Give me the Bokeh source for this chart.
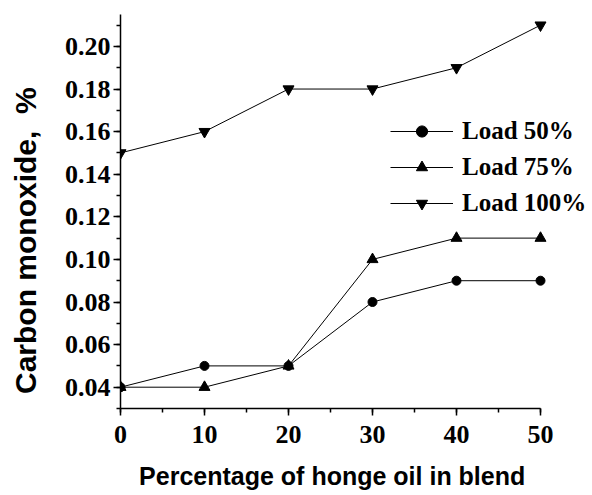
from bokeh.plotting import figure
from bokeh.models import Range1d, SingleIntervalTicker, NumeralTickFormatter, Legend, LegendItem
from bokeh.embed import file_html
from bokeh.resources import INLINE

blend = [0, 10, 20, 30, 40, 50]
load_50 = [0.04, 0.05, 0.05, 0.08, 0.09, 0.09]
load_75 = [0.04, 0.04, 0.05, 0.10, 0.11, 0.11]
load_100 = [0.15, 0.16, 0.18, 0.18, 0.19, 0.21]
series_names = ["Load 50%", "Load 75%", "Load 100%"]

NB = "\u00a0"

p = figure(width=592, height=495, output_backend="svg", toolbar_location=None,
           x_range=Range1d(0, 56.19), y_range=Range1d(0.03, 0.215),
           min_border_left=120, min_border_right=0, min_border_top=14, min_border_bottom=87)
p.outline_line_color = None
p.xgrid.visible = False
p.ygrid.visible = False

r1 = p.line(blend, load_50, line_color="black", line_width=1)
s1 = p.scatter(blend, load_50, marker="circle", size=9, color="black")
r2 = p.line(blend, load_75, line_color="black", line_width=1)
s2 = p.scatter(blend, load_75, marker="triangle", size=11, color="black")
r3 = p.line(blend, load_100, line_color="black", line_width=1)
s3 = p.scatter(blend, load_100, marker="inverted_triangle", size=11, color="black")

for ax in (p.xaxis[0], p.yaxis[0]):
    ax.axis_line_color = "black"
    ax.axis_line_width = 1.5
    ax.major_tick_line_color = "black"
    ax.major_tick_line_width = 1.5
    ax.minor_tick_line_color = "black"
    ax.minor_tick_line_width = 1.5
    ax.major_tick_in = 0
    ax.major_tick_out = 7
    ax.minor_tick_in = 0
    ax.minor_tick_out = 4
    ax.major_label_text_font = "Liberation Serif"
    ax.major_label_text_font_style = "bold"
    ax.major_label_text_font_size = "26px"
    ax.major_label_text_color = "black"
    ax.axis_label_text_font = "Liberation Sans"
    ax.axis_label_text_font_style = "bold"
    ax.axis_label_text_color = "black"

p.xaxis.bounds = (0, 50)
p.xaxis.ticker = SingleIntervalTicker(interval=10, num_minor_ticks=2)
p.yaxis.ticker = SingleIntervalTicker(interval=0.02, num_minor_ticks=2)
p.yaxis.formatter = NumeralTickFormatter(format="0.00")

p.xaxis.axis_label = "Percentage of honge oil in blend" + NB * 7
p.xaxis.axis_label_text_font_size = "25px"
p.xaxis.axis_label_text_line_height = 0.8
p.xaxis.major_label_text_line_height = 0.8
p.xaxis.major_label_standoff = 10
p.xaxis.axis_label_standoff = 16

p.yaxis.axis_label = "Carbon monoxide," + NB * 2 + "%" + NB * 7
p.yaxis.axis_label_text_font_size = "30px"
p.yaxis.major_label_standoff = 3
p.yaxis.axis_label_standoff = 20

legend = Legend(items=[
    LegendItem(label=series_names[0], renderers=[r1, s1]),
    LegendItem(label=series_names[1], renderers=[r2, s2]),
    LegendItem(label=series_names[2], renderers=[r3, s3]),
], location=(270, 191))
legend.glyph_width = 63
legend.glyph_height = 28
legend.label_height = 28
legend.spacing = 8
legend.padding = 0
legend.margin = 0
legend.label_standoff = 9
legend.label_text_font = "Liberation Serif"
legend.label_text_font_style = "bold"
legend.label_text_font_size = "25px"
legend.label_text_color = "black"
legend.border_line_alpha = 0
legend.background_fill_alpha = 0
p.add_layout(legend, "center")

open("out.html", "w").write(file_html(p, INLINE))
